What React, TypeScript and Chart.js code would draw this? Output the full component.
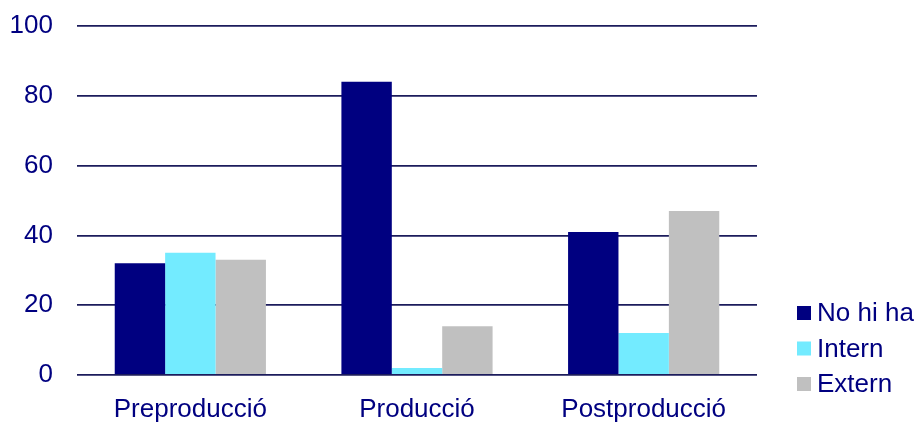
import React, { useEffect, useRef } from "react";
import { Chart, registerables } from "chart.js";

Chart.register(...registerables);

const categories = ["Preproducció", "Producció", "Postproducció"];
const seriesNames = ["No hi ha", "Intern", "Extern"];
const noHiHa = [32, 84, 41];
const intern = [35, 2, 12];
const extern = [33, 14, 47];
const colors = ["#000080", "#73EBFF", "#C0C0C0"];

const FONT = "Arial, 'Liberation Sans', sans-serif";
const TEXT = "#000080";
const FS = 26;

const legendPlugin = {
  id: "customLegend",
  afterDraw(chart: any) {
    const ctx = chart.ctx;
    const area = chart.chartArea;
    const x = area.right + 40;
    const startY = 313;
    const step = 35.5;
    ctx.save();
    ctx.font = `${FS}px ${FONT}`;
    ctx.textBaseline = "middle";
    ctx.textAlign = "left";
    chart.data.datasets.forEach((ds: any, i: number) => {
      const cy = startY + i * step;
      ctx.fillStyle = ds.backgroundColor;
      ctx.fillRect(x, cy - 7, 14, 14);
      ctx.fillStyle = TEXT;
      ctx.fillText(ds.label, x + 20, cy + 1);
    });
    ctx.restore();
  },
};

export default function App() {
  const ref = useRef<HTMLCanvasElement>(null);
  useEffect(() => {
    if (!ref.current) return;
    const chart = new Chart(ref.current, {
      type: "bar",
      data: {
        labels: categories,
        datasets: [
          { label: seriesNames[0], data: noHiHa, backgroundColor: colors[0] },
          { label: seriesNames[1], data: intern, backgroundColor: colors[1] },
          { label: seriesNames[2], data: extern, backgroundColor: colors[2] },
        ],
      },
      options: {
        animation: false,
        responsive: false,
        maintainAspectRatio: false,
        layout: { padding: { top: 26, right: 160, bottom: 0, left: 10 } },
        datasets: {
          bar: { categoryPercentage: 0.667, barPercentage: 1, borderWidth: 0 },
        },
        plugins: {
          legend: { display: false },
          tooltip: { enabled: false },
        },
        scales: {
          x: {
            grid: { display: false, drawTicks: false },
            border: { display: false },
            ticks: {
              color: TEXT,
              font: { size: FS, family: FONT, lineHeight: 1 },
              padding: 22,
              maxRotation: 0,
            },
            afterFit(scale: any) {
              scale.paddingLeft = 0;
              scale.paddingRight = 0;
              scale.height = 48;
            },
          },
          y: {
            min: 0,
            max: 100,
            grid: { color: "#1c1c5c", lineWidth: 1.8, drawTicks: false },
            border: { display: false },
            ticks: {
              stepSize: 20,
              color: TEXT,
              font: { size: FS, family: FONT },
              padding: 24,
            },
            afterFit(scale: any) {
              scale.paddingTop = 0;
              scale.paddingBottom = 0;
              scale.width = 67;
            },
          },
        },
      },
      plugins: [legendPlugin],
    });
    return () => chart.destroy();
  }, []);
  return (
    <div style={{ position: "fixed", left: 0, top: 0, width: 917, height: 423, background: "#fff" }}>
      <canvas ref={ref} width={917} height={423} style={{ width: 917, height: 423 }} />
    </div>
  );
}
